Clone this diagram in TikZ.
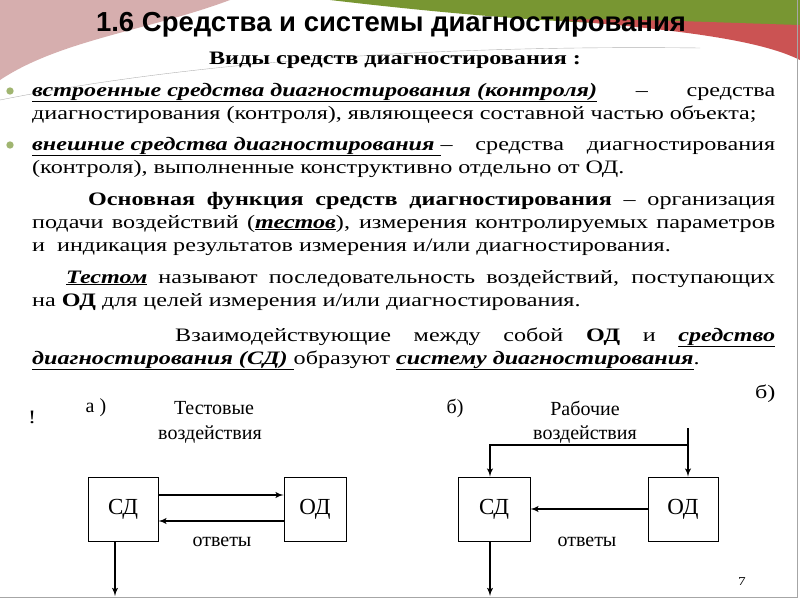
\documentclass[tikz,border=0pt]{standalone}
\usepackage{fontspec}
\setmainfont{Liberation Serif}[FakeStretch=1.27]
\newfontfamily\titlefont{Liberation Sans}
\newfontfamily\diafont{Liberation Serif}
\usetikzlibrary{arrows,calc}
\definecolor{rose}{RGB}{196,140,140}
\definecolor{leaf}{RGB}{120,150,50}
\definecolor{wine}{RGB}{190,40,40}
\tikzstyle{txt}=[anchor=base west,inner sep=0pt,font=\fontsize{19}{20}\selectfont]
\tikzstyle{lbl}=[inner sep=0pt,font=\diafont\fontsize{20}{22}\selectfont]
\tikzstyle{block}=[rectangle,draw,thick,minimum width=70pt,minimum height=64pt,
                   font=\diafont\fontsize{23}{24}\selectfont]
\tikzstyle{line}=[draw,line width=1.8pt,-latex']
\tikzstyle{dot}=[circle,fill=leaf!70,inner sep=2.6pt]
\newcommand{\jline}[4]{\node[txt] at (#1,#2) {\hbox to #3pt{#4}};}
\begin{document}
\begin{tikzpicture}[x=1pt,y=-1pt]
      \useasboundingbox (0,0) rectangle (800,600);
      \fill[white] (0,0) rectangle (800,600);
      % header swoosh
      \fill[rose!70] (0,0) -- (230,0) .. controls (150,30) and (60,40) .. (0,80) -- cycle;
      \fill[leaf] (330,0) -- (800,0) -- (800,25) .. controls (650,30) and (500,20) .. (330,0) -- cycle;
      \fill[wine!80] (560,20) .. controls (680,30) and (760,40) .. (800,60) -- (800,25) .. controls (700,22) and (620,18) .. (560,20) -- cycle;
      \draw[gray!60] (0,100) .. controls (200,60) and (450,45) .. (700,48);
      \draw[gray!70] (797,0) -- (797,597) -- (0,597);
      \node[anchor=base,inner sep=0pt,font=\titlefont\bfseries\fontsize{27.5}{29}\selectfont] (title) at (391,31) {1.6 Средства и системы диагностирования};
      \node[anchor=base,inner sep=0pt,font=\bfseries\fontsize{19}{20}\selectfont] (kinds) at (395,64) {Виды средств диагностирования :};
      \node[dot] (b1) at (10,91) {};
      \node[dot] (b2) at (10,145) {};
      \jline{32}{96}{743}{\textbf{\textit{\underline{встроенные средства диагностирования (контроля)}}} – средства}
      \node[txt] (l2) at (32,119) {диагностирования (контроля), являющееся составной частью объекта;};
      \jline{32}{150}{743}{\textbf{\textit{\underline{внешние средства диагностирования }}}– средства диагностирования}
      \node[txt] (l4) at (32,173) {(контроля), выполненные конструктивно отдельно от ОД.};
      \jline{88}{205}{687}{\textbf{Основная функция средств диагностирования} – организация}
      \jline{32}{228}{743}{подачи воздействий (\textbf{\textit{\underline{тестов}}}), измерения контролируемых параметров}
      \node[txt] (l7) at (32,251) {и \ индикация результатов измерения и/или диагностирования.};
      \jline{66}{283}{709}{\textbf{\textit{\underline{Тестом}}} называют последовательность воздействий, поступающих}
      \node[txt] (l9) at (32,306) {на \textbf{ОД} для целей измерения и/или диагностирования.};
      \jline{175}{341}{600}{Взаимодействующие между собой \textbf{ОД} и \textbf{\textit{\underline{средство}}}}
      \node[txt] (l11) at (32,364) {\textbf{\textit{\underline{диагностирования (СД) }}}образуют \textbf{\textit{\underline{систему диагностирования}}}.};
      \node[txt] (b3) at (755,398) {б)};
      \node[txt] (mark) at (28,423) {!};
      % diagram a
      \node[lbl] (a) at (96,408) {а )};
      \node[lbl] (ta) at (214,408) {Тестовые};
      \node[lbl] (tb) at (210,435) {воздействия};
      \node[block] (sd1) at (123,509) {СД};
      \node[block,minimum width=62pt] (od1) at (315,509) {ОД};
      \node[lbl] (ans1) at (222,542) {ответы};
      \coordinate (out1) at (115,596);
      \path[line] ($(sd1.east)+(0,-14)$) -- ($(od1.west)+(0,-14)$);
      \path[line] ($(od1.west)+(0,12)$) -- ($(sd1.east)+(0,12)$);
      \path[line] (sd1.south -| out1) -- (out1);
      % diagram b
      \node[lbl] (b) at (455,408) {б)};
      \node[lbl] (wa) at (585,408) {Рабочие};
      \node[lbl] (wb) at (585,435) {воздействия};
      \node[block,minimum width=72pt] (sd2) at (494,509) {СД};
      \node[block] (od2) at (683,509) {ОД};
      \node[lbl] (ans2) at (587,542) {ответы};
      \coordinate (in2) at (688,428);
      \coordinate (out2) at (490,596);
      \path[line] (od2.west) -- (sd2.east);
      \path[line] (in2) -- (od2.north -| in2);
      \path[line] ($(in2)+(0,17)$) -| (sd2.north -| out2);
      \path[line] (sd2.south -| out2) -- (out2);
      \node[lbl,font=\fontsize{12}{14}\selectfont] (page) at (742,582) {7};
\end{tikzpicture}
\end{document}
